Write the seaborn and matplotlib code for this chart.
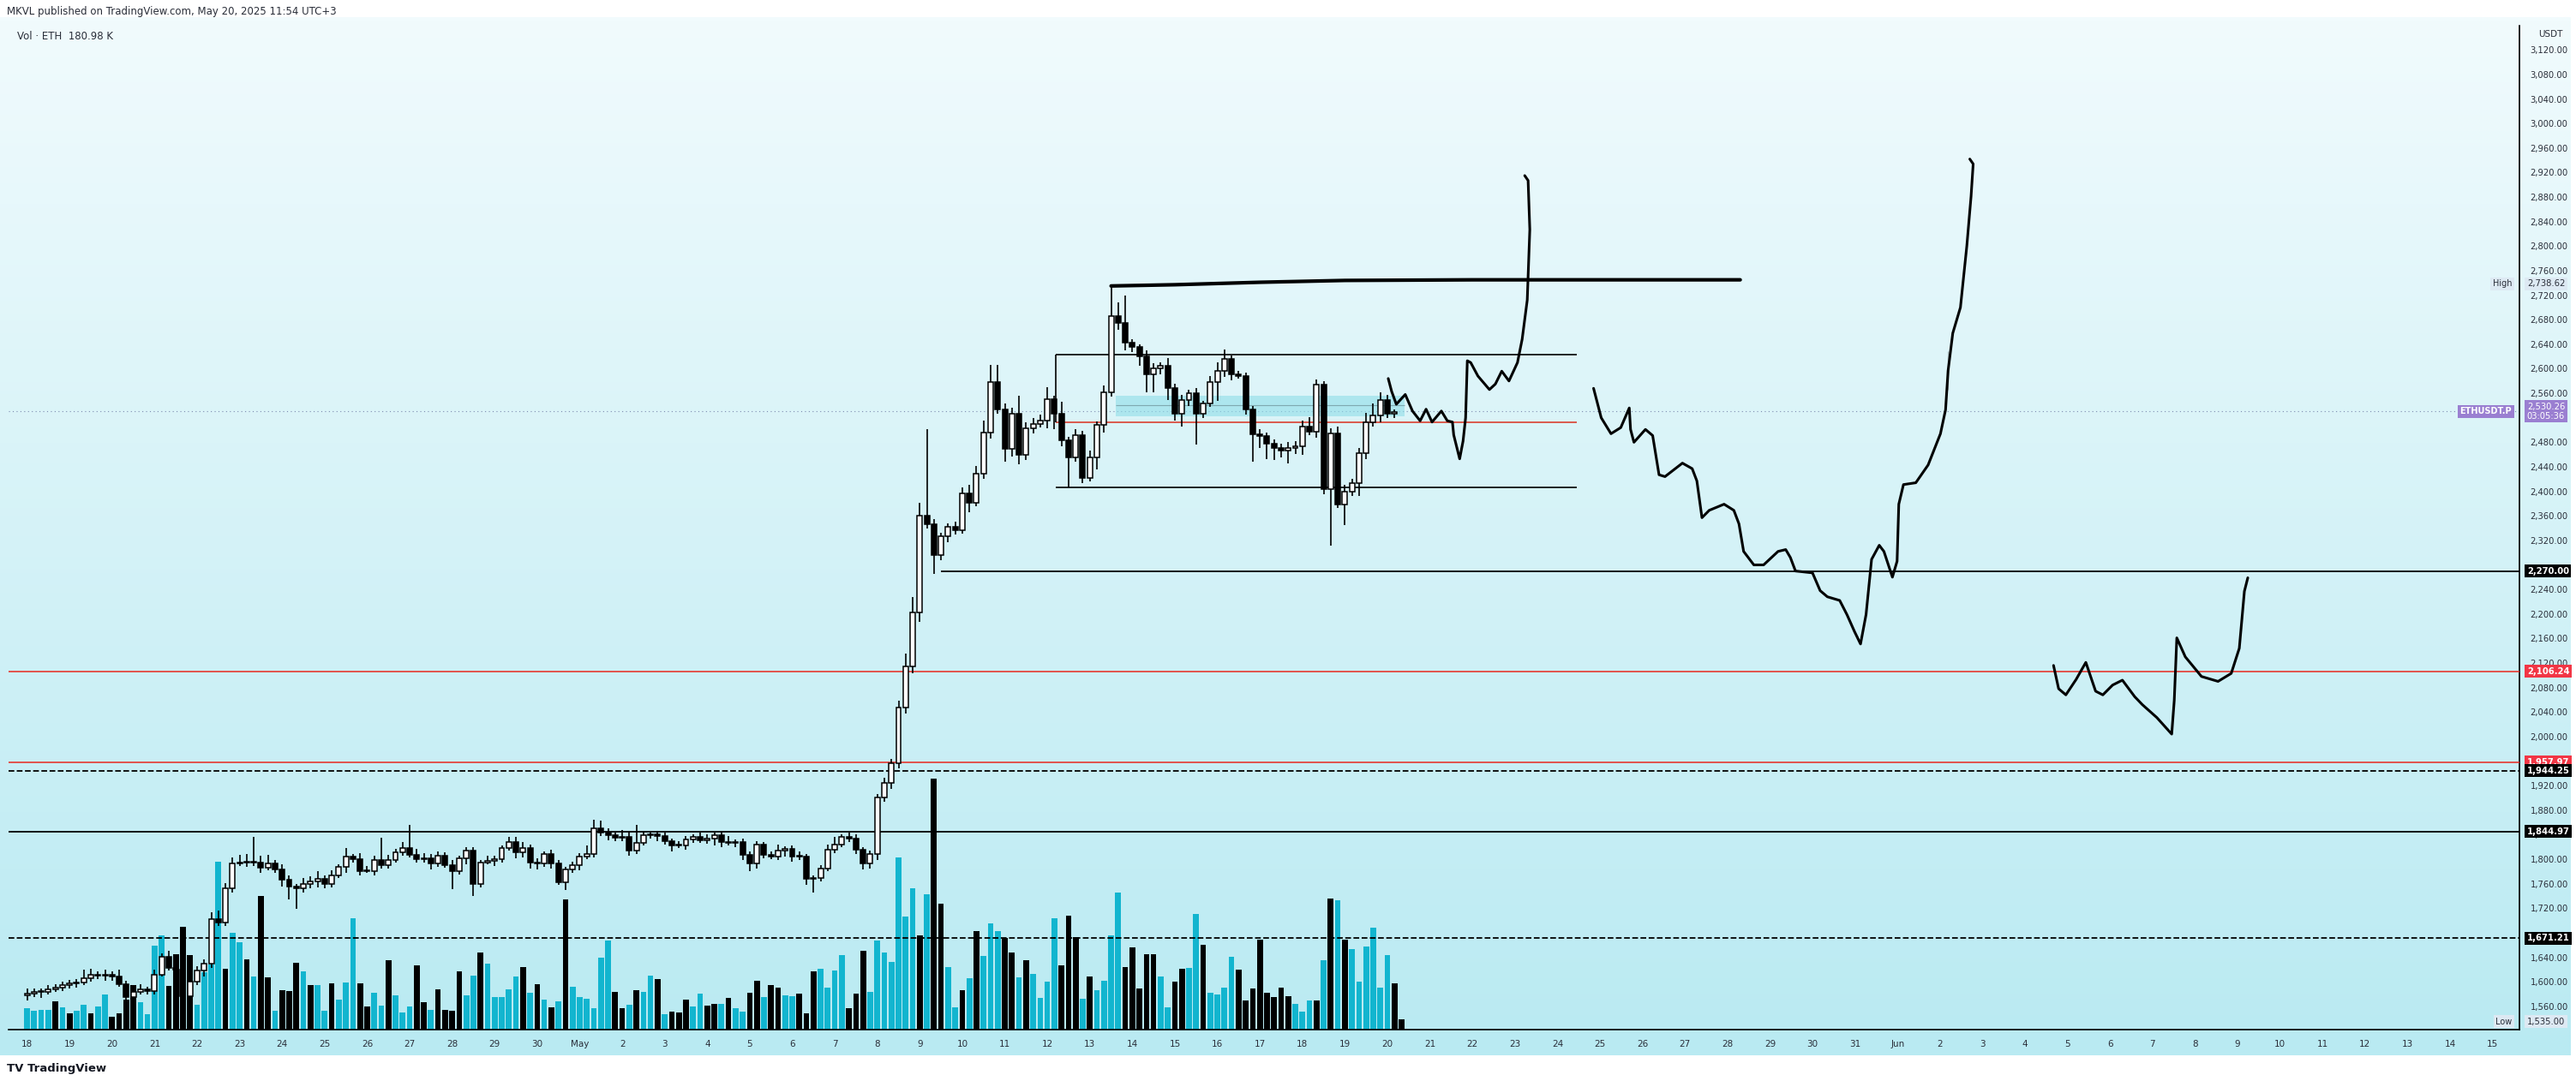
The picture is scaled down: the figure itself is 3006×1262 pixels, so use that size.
import numpy as np
import pandas as pd
import matplotlib
matplotlib.use("Agg")
import matplotlib.pyplot as plt
import seaborn as sns

sns.set_style("white")
plt.rcParams['font.family'] = ['DejaVu Sans']

# ---------------- DATA ----------------
# 4h candles starting Apr 18 00:00 (t in days since Apr 18)
closes_a = [1581,1583,1584,1588,1591,1594, 1597,1599,1606,1611,1610,1612,
            1608,1596,1575,1583,1588,1585, 1612,1641,1623,1620,1576,1600,
            1618,1630,1702,1697,1753,1793, 1795,1796,1795,1786,1793,1783,
            1767,1755,1753,1760,1764,1768, 1760,1774,1788,1804,1800,1781,
            1781,1799,1790,1799,1811,1818, 1807,1800,1802,1793,1805,1790,
            1781,1802,1814,1760,1795,1797, 1800,1818,1828,1811,1818,1795,
            1793,1809,1793,1762,1783,1790, 1804,1809,1851,1844,1839,1835,
            1837,1814,1826,1839,1840,1838, 1830,1823,1822,1832,1836,1831,
            1833,1839,1828,1826,1828,1807, 1793,1824,1807,1804,1814,1817,
            1804,1804,1768,1770,1784,1816, 1824,1836,1834,1815,1793,1808,
            1900,1925]
closes_b = [1956,2048,2115,2202,2361,2347, 2296,2327,2342,2337,2396,2381,
            2429,2496,2578,2533,2469,2526, 2459,2503,2510,2515,2550,2526,
            2483,2456,2491,2422,2456,2508, 2561,2686,2674,2642,2635,2620,
            2591,2601,2605,2569,2526,2549, 2560,2526,2544,2578,2596,2616,
            2591,2588,2533,2493,2490,2478, 2471,2466,2471,2474,2506,2497,
            2574,2403,2495,2379,2400,2413, 2463,2513,2524,2549,2526,2530]
wick_up = [8,6,5,6,5,6, 6,5,14,10,6,8, 5,12,6,5,8,4, 8,6,10,6,5,6,
           8,6,12,14,8,10, 12,12,41,10,14,6, 8,6,4,10,8,12, 6,8,4,14,4,10,
           8,6,36,8,6,10, 38,10,8,6,8,6, 8,4,6,6,4,8, 6,4,8,8,10,6,
           6,4,6,6,4,6, 6,14,14,12,6,4, 10,8,30,6,4,6, 6,4,6,6,4,8,
           8,4,6,10,4,6, 6,6,4,6,10,4, 6,8,4,4,6,8, 12,4,8,6,4,6, 6,8,
           8,10,20,25,20,141, 8,6,6,8,10,15, 12,20,28,28,10,10, 30,10,10,10,20,6,
           20,6,10,8,10,6, 12,50,22,45,6,5, 10,8,6,12,6,8, 5,8,4,10,15,15,
           6,6,6,6,8,6, 6,6,10,8,10,15, 8,5,8,10,10,8, 8,15,20,12,8,4]
wick_dn = [8,6,10,5,5,6, 5,6,4,6,5,8, 6,4,10,5,4,6, 6,4,5,8,6,8,
           6,10,8,6,6,8, 4,8,6,8,4,6, 12,20,34,8,8,10, 8,6,4,10,6,8,
           4,8,6,6,4,6, 4,6,6,10,6,4, 30,6,10,20,6,4, 8,6,4,10,8,10,
           10,6,8,4,12,6, 8,4,6,6,8,6, 6,8,6,4,6,8, 6,10,4,6,6,4,
           6,10,8,4,6,8, 12,8,6,4,6,10, 8,6,10,22,6,4, 6,4,6,6,10,8, 10,6,
           10,8,10,12,15,8, 30,8,10,8,6,15, 6,8,10,6,20,12, 15,8,8,6,12,25,
           10,50,8,8,6,20, 12,6,10,12,8,15, 30,30,10,20,10,20, 10,50,6,6,30,10,
           10,4,8,45,20,25, 20,10,20,10,15,6, 10,8,91,6,34,8, 20,10,8,12,6,6]
first_open = 1578

vol_a = [25,22,23,23,33,26,19,22,29,19, 27,41,15,19,35,52,32,18,98,110,
         51,88,120,87,29,67,76,196,71,113, 102,82,62,156,61,22,46,45,78,68,
         52,52,22,54,35,55,130,54,27,43, 28,81,40,20,27,75,32,23,47,23,
         22,68,40,63,90,77,38,38,47,62, 73,43,53,35,26,33,152,50,38,36,
         25,84,104,44,25,29,46,44,63,59, 18,21,20,35,27,42,28,30,30,37,
         25,21,43,57,38,52,49,40,39,42, 19,68,71,49,69,87,25,42,92,44,104]
vol_b = [90,79,201,132,165,110,158,293,147,73, 26,46,60,115,86,124,115,107,90,61,
         81,65,37,56,130,75,133,108,36,62, 46,57,110,160,73,96,48,88,88,62,
         26,56,71,72,135,99,43,41,49,85, 70,34,48,105,43,38,49,39,30,21,
         34,34,81,153,151,105,94,56,97,119, 49,87,54,12]
vol_dir = ("tttt btbttb" "ttbbbbtttt" "bbbbttttbt" "tbtbbtbbbt" "bttbtttbbt"
           "tbtttbbtbb" "bbttbttttt" "btbtbtbttt" "tttbbtbttb" "tbbbttbbtb"
           "ttbbtbbttb" "bbttttbbbtt"
           "tttttbtbbt" "tbtbtttbbt" "bttttbbbtb" "ttttbbbbbt" "tbbttbtttt"
           "bbbbbbbbtt" "tbtbtbtttt" "ttbb").replace(" ", "")

levels = [2270.00, 2106.24, 1957.97, 1944.25, 1844.97, 1671.21]
level_colors = ["black", "#e8281e", "#e8281e", "black", "black", "black"]
level_styles = ["-", "-", "-", "--", "-", "--"]
level_start = [21.5, -1, -1, -1, -1, -1]

range_t = [24.2, 36.46]
range_top, range_mid, range_bot = 2623, 2513, 2406
zone_t = [25.6, 32.4]
zone_p = [2523, 2556]
last_price = 2530.26
high_price, low_price = 2738.62, 1535.00

high_line_t = [25.5, 27.0, 29.0, 31.0, 34.0, 37.0, 40.3]
high_line_p = [2735, 2737, 2741, 2744, 2745, 2745, 2745]

pathA_t = [32.02,32.10,32.21,32.42,32.59,32.77,32.91,33.05,33.27,33.41,33.53,33.56,33.70,
           33.78,33.84,33.88,33.96,34.13,34.40,34.54,34.69,34.86,35.06,35.17,35.29,35.35,35.31,35.23]
pathA_p = [2584,2563,2542,2558,2531,2515,2534,2513,2531,2515,2513,2492,2453,
           2482,2520,2613,2610,2588,2566,2575,2596,2580,2610,2648,2712,2827,2907,2915]
pathB_t = [36.85,37.03,37.26,37.49,37.69,37.72,37.80,38.07,38.24,38.39,38.53,38.94,39.17,39.28,
           39.40,39.57,39.92,40.15,40.27,40.38,40.62,40.85,41.19,41.37,41.48,41.60,42.00,42.18,
           42.35,42.64,42.81,42.99,43.13,43.26,43.39,43.57,43.68,43.88,43.99,44.03,44.14,44.43,
           44.72,45.01,45.13,45.19,45.19,45.30,45.48,45.63,45.73,45.78,45.70]
pathB_p = [2568,2520,2494,2504,2536,2501,2480,2501,2491,2427,2424,2446,2437,2417,
           2357,2369,2379,2369,2347,2302,2280,2280,2302,2305,2292,2270,2267,2238,
           2228,2222,2199,2171,2151,2199,2289,2312,2302,2260,2286,2379,2411,2414,
           2443,2494,2533,2565,2629,2658,2700,2800,2881,2934,2942]
pathC_t = [47.67,47.79,47.96,48.20,48.43,48.66,48.83,49.06,49.29,49.58,49.76,50.10,50.45,
           50.51,50.57,50.77,51.15,51.54,51.85,52.04,52.16,52.24]
pathC_p = [2116,2078,2068,2093,2121,2074,2068,2084,2092,2065,2052,2031,2004,
           2059,2161,2130,2098,2090,2103,2144,2237,2259]

day_labels = (["18","19","20","21","22","23","24","25","26","27","28","29","30","May"] +
              [str(d) for d in range(2, 32)] + ["Jun"] + [str(d) for d in range(2, 16)])

# ---------------- FIGURE ----------------
W, H = 3006, 1262
fig = plt.figure(figsize=(W/100, H/100), dpi=100, facecolor="white")

def fx(px): return px / W
def fy(py): return 1 - py / H

# background gradient panel
bg = fig.add_axes([0, fy(1232), fx(3000), fy(20) - fy(1232)])
grad = np.linspace(0, 1, 256).reshape(-1, 1)
from matplotlib.colors import LinearSegmentedColormap
cm = LinearSegmentedColormap.from_list("g", ["#f1fbfd", "#b9eaf2"])
bg.imshow(grad, aspect="auto", cmap=cm, extent=[0, 1, 0, 1], origin="upper")
bg.axis("off")
bg.set_zorder(0)

axpos = [fx(10), fy(1202), fx(2940) - fx(10), fy(30) - fy(1202)]
axv = fig.add_axes(axpos)
ax = fig.add_axes(axpos)
for a in (axv, ax):
    a.patch.set_visible(False)
axv.set_zorder(1)
ax.set_zorder(2)

XMIN, XMAX = -0.435, 58.63
YMIN, YMAX = 1522, 3159.5

# candles
closes = closes_a + closes_b
opens = [first_open] + closes[:-1]
n = len(closes)
t = np.arange(n) / 6.0
df = pd.DataFrame({"t": t, "open": opens, "close": closes,
                   "wu": wick_up[:n], "wd": wick_dn[:n]})
df["top"] = df[["open", "close"]].max(axis=1)
df["bot"] = df[["open", "close"]].min(axis=1)
df["high"] = df["top"] + df["wu"]
df["low"] = df["bot"] - df["wd"]
df["up"] = df["close"] >= df["open"]

# volume
vol = vol_a + vol_b
vdf = pd.DataFrame({"t": np.arange(len(vol)) / 6.0, "v": vol,
                    "c": ["#12b5cf" if c == "t" else "black" for c in vol_dir[:len(vol)]]})
axv.bar(vdf["t"], vdf["v"], width=0.135, color=vdf["c"], linewidth=0)
axv.set_xlim(XMIN, XMAX)
axv.set_ylim(0, 1172)
axv.axis("off")

# lines
for lv, c, ls, st in zip(levels, level_colors, level_styles, level_start):
    ax.hlines(lv, st if st > 0 else XMIN, XMAX, color=c, lw=1.3 if c == "black" else 1.1, ls=ls, zorder=3)
ax.hlines(last_price, XMIN, XMAX, color="#7d8bb0", lw=0.8, ls=(0, (1, 3)), zorder=2)

ax.fill_between(zone_t, zone_p[0], zone_p[1], color="#8fdde8", alpha=0.6, lw=0, zorder=2)
ax.hlines(2540, zone_t[0], zone_t[1], color="#7fa9b0", lw=0.8, zorder=2)
ax.hlines([range_top, range_bot], range_t[0], range_t[1], color="black", lw=1.2, zorder=3)
ax.hlines(range_mid, range_t[0], range_t[1], color="#d9301f", lw=1.1, zorder=3)
ax.vlines(range_t[0], range_mid, range_top, color="black", lw=1.2, zorder=3)

# candles draw
ax.vlines(df["t"], df["low"], df["high"], color="black", lw=1.2, zorder=4)
bw = 0.12
ax.bar(df["t"], (df["top"] - df["bot"]).clip(lower=1.5), bottom=df["bot"], width=bw,
       color=np.where(df["up"], "white", "black"), edgecolor="black", linewidth=1.1, zorder=5)

# freehand drawings
sns.lineplot(x=high_line_t, y=high_line_p, ax=ax, color="black", lw=3, sort=False, zorder=6)
for pt, pp in ((pathA_t, pathA_p), (pathB_t, pathB_p), (pathC_t, pathC_p)):
    sns.lineplot(x=pt, y=pp, ax=ax, color="black", lw=2.2, sort=False, zorder=6)

ax.set_xlim(XMIN, XMAX)
ax.set_ylim(YMIN, YMAX)

# y ticks
yt = [v for v in range(1560, 3121, 40) if v not in (2520, 2280, 1680, 1960, 2760 + 1000)]
ax.yaxis.tick_right()
ax.set_yticks(yt)
ax.set_yticklabels([f"{v:,.2f}" for v in yt], fontsize=7.2, color="#2a2e39")
ax.tick_params(axis="y", length=0, pad=9)
ax.set_xticks(np.arange(0, 59))
ax.set_xticklabels(day_labels, fontsize=7.5, color="#2a2e39")
ax.tick_params(axis="x", length=0, pad=9)
for s in ("top", "left"):
    ax.spines[s].set_visible(False)
ax.spines["right"].set_color("black")
ax.spines["bottom"].set_color("black")
ax.spines["right"].set_linewidth(1.2)
ax.spines["bottom"].set_linewidth(1.2)
ax.grid(False)

# price labels on axis
trans = ax.get_yaxis_transform()
def plabel(p, text, fc, tc="white", bold=True):
    ax.text(1.003, p, text, transform=trans, fontsize=7.2, color=tc,
            fontweight="bold" if bold else "normal", va="center", ha="left",
            bbox=dict(boxstyle="square,pad=0.25", fc=fc, ec="none"), zorder=10, clip_on=False)

for lv, c in zip(levels, level_colors):
    plabel(lv, f"{lv:,.2f}", "#f23645" if c != "black" else "black")
plabel(high_price, f"{high_price:,.2f}", "#dde9f3", tc="#2a2e39", bold=False)
plabel(low_price, f"{low_price:,.2f}", "#dde9f3", tc="#2a2e39", bold=False)
ax.text(1.003, last_price, f"{last_price:,.2f}\n03:05:36", transform=trans, fontsize=7.2,
        color="white", va="center", ha="left", linespacing=1.1,
        bbox=dict(boxstyle="square,pad=0.25", fc="#9a7fd1", ec="none"), zorder=10, clip_on=False)
ax.text(0.997, last_price, "ETHUSDT.P", transform=trans, fontsize=7, color="white",
        fontweight="bold", va="center", ha="right",
        bbox=dict(boxstyle="square,pad=0.25", fc="#9a7fd1", ec="none"), zorder=10)
ax.text(0.997, high_price, "High", transform=trans, fontsize=7, color="#2a2e39", va="center",
        ha="right", bbox=dict(boxstyle="square,pad=0.25", fc="#dde9f3", ec="none"), zorder=10)
ax.text(0.997, low_price, "Low", transform=trans, fontsize=7, color="#2a2e39", va="center",
        ha="right", bbox=dict(boxstyle="square,pad=0.25", fc="#dde9f3", ec="none"), zorder=10)
fig.text(fx(2962), fy(40), "USDT", fontsize=7.5, color="#2a2e39", va="center")

# header / footer
fig.text(fx(8), fy(14), "MKVL published on TradingView.com, May 20, 2025 11:54 UTC+3",
         fontsize=8.5, color="#2a2e39", va="center")
fig.text(fx(20), fy(42), "Vol · ETH  180.98 K", fontsize=8.5, color="#2a2e39", va="center")
fig.text(fx(8), fy(1248), "TV TradingView", fontsize=9.5, color="#131722", va="center",
         fontweight="bold")

fig.savefig("out.png", dpi=100, facecolor="white")
